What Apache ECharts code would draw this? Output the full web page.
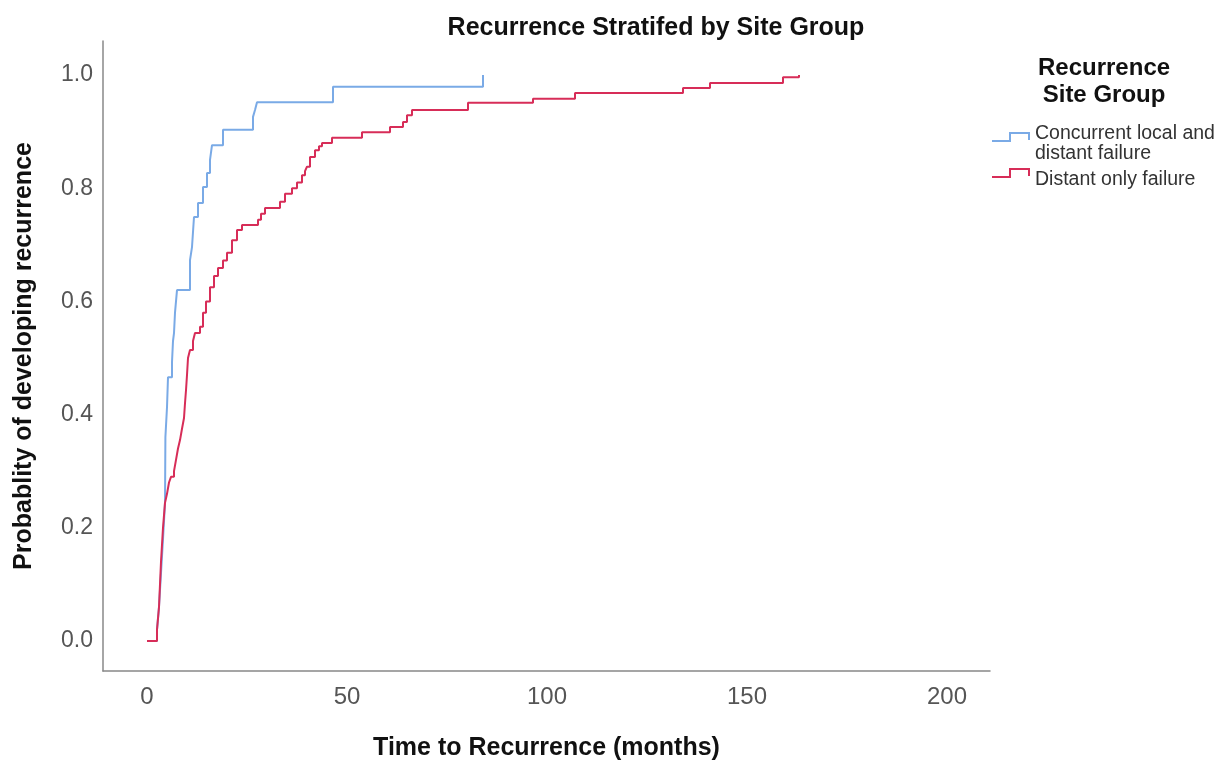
<!DOCTYPE html>
<html><head><meta charset="utf-8">
<script src="https://cdn.jsdelivr.net/npm/echarts@6/dist/echarts.min.js"></script>
<style>html,body{margin:0;padding:0;background:#fff}#c{width:1225px;height:760px}</style>
</head><body><div id="c"></div>
<script>
// Cumulative probability of recurrence: [months, probability]
const concurrentLocalDistant = [
  [0,0],[2.5,0.02],[3,0.06],[3.5,0.12],[4,0.18],[4.5,0.244],[4.55,0.30],[4.6,0.36],[5,0.413],[5.25,0.466],
  [6.25,0.493],[6.5,0.53],[6.75,0.544],[7,0.58],[7.5,0.62],[10.75,0.673],[11.25,0.696],[11.75,0.749],
  [12.75,0.774],[14,0.802],[15,0.827],[15.75,0.85],[16.25,0.876],[19,0.903],[26.5,0.926],[27,0.938],
  [27.5,0.952],[46.5,0.979],[84,1.0]
];
const distantOnly = [
  [0,0],[2.5,0.02],[3,0.06],[3.25,0.10],[3.5,0.14],[3.75,0.17],[4,0.20],[4.5,0.244],[5,0.26],[5.5,0.28],
  [6,0.29],[6.75,0.30],[7.25,0.32],[7.75,0.34],[8.25,0.355],[8.75,0.375],[9.25,0.394],[9.5,0.42],
  [9.75,0.443],[10,0.47],[10.25,0.50],[10.75,0.514],[11.5,0.53],[12,0.544],[13.25,0.555],[14,0.58],
  [14.75,0.60],[15.75,0.625],[16.75,0.645],[17.75,0.659],[19,0.672],[20,0.686],[21.25,0.708],
  [22.5,0.726],[23.75,0.735],[27.75,0.744],[28.5,0.755],[29.5,0.765],[33.25,0.776],[34.5,0.79],
  [36.25,0.80],[37.5,0.81],[38.75,0.823],[39.5,0.83],[40,0.838],[40.75,0.855],[42,0.867],[43,0.874],
  [43.75,0.88],[46.25,0.889],[53.75,0.899],[60.75,0.908],[64,0.917],[65,0.929],[66.25,0.938],
  [80.25,0.951],[96.5,0.958],[107,0.968],[134,0.977],[140.75,0.986],[159,0.996],[163,1.0]
];
const seriesNames = ['Concurrent local and\ndistant failure', 'Distant only failure'];
const legendTitle = 'Recurrence\nSite Group';
const xTicks = [0, 50, 100, 150, 200];
const yTicks = [0, 0.2, 0.4, 0.6, 0.8, 1.0];

const FONT = "'Liberation Sans', Arial, sans-serif";
const BLUE = '#7aaae6', RED = '#d72d58';

function stepIcon(x, yLow, color) {
  return {type: 'polyline', silent: true,
    shape: {points: [[x, yLow], [x + 18, yLow], [x + 18, yLow - 8], [x + 37, yLow - 8], [x + 37, yLow - 1]]},
    style: {stroke: color, lineWidth: 2, fill: null}};
}

const chart = echarts.init(document.getElementById('c'), null, {renderer: 'canvas'});
chart.setOption({
  animation: false,
  backgroundColor: '#ffffff',
  title: {text: 'Recurrence Stratifed by Site Group', left: 651, top: 11, textAlign: 'center',
     textStyle: {fontFamily: FONT, fontWeight: 'bold', fontSize: 25, color: '#111'}},
  graphic: [
    {type: 'text', left: 1108 - 70, top: 55, silent: true,
     style: {text: legendTitle, x: 70, textAlign: 'center', font: "bold 24px 'Liberation Sans', Arial, sans-serif",
       lineHeight: 27, fill: '#111'}},
    stepIcon(992, 141, BLUE),
    {type: 'text', left: 1035, top: 124, silent: true,
     style: {text: seriesNames[0], font: "19.5px 'Liberation Sans', Arial, sans-serif", lineHeight: 20, fill: '#333'}},
    stepIcon(992, 177, RED),
    {type: 'text', left: 1035, top: 170, silent: true,
     style: {text: seriesNames[1], font: "19.5px 'Liberation Sans', Arial, sans-serif", lineHeight: 20, fill: '#333'}}
  ],
  grid: {left: 103, right: 235, top: 41, bottom: 89, containLabel: false, outerBoundsMode: 'none'},
  xAxis: {
    type: 'value', min: -11, max: 210.75,
    name: 'Time to Recurrence (months)', nameLocation: 'middle', nameGap: 65,
    nameTextStyle: {fontFamily: FONT, fontWeight: 'bold', fontSize: 25, color: '#111'},
    axisLine: {show: true, onZero: false, lineStyle: {color: '#888', width: 1.5}},
    axisTick: {show: false},
    splitLine: {show: false},
    axisLabel: {customValues: xTicks, margin: 14, fontFamily: FONT, fontSize: 24, color: '#555',
      formatter: v => String(v)}
  },
  yAxis: {
    type: 'value', min: -0.053, max: 1.06,
    name: 'Probablity of developing recurrence', nameLocation: 'middle', nameGap: 66, nameRotate: 90,
    nameTextStyle: {fontFamily: FONT, fontWeight: 'bold', fontSize: 25, color: '#111'},
    axisLine: {show: true, onZero: false, lineStyle: {color: '#888', width: 1.5}},
    axisTick: {show: false},
    splitLine: {show: false},
    axisLabel: {customValues: yTicks, margin: 10, fontFamily: FONT, fontSize: 23, color: '#555',
      formatter: v => v.toFixed(1)}
  },
  series: [
    {name: seriesNames[0], type: 'line', step: 'end', data: concurrentLocalDistant, symbol: 'none',
     lineStyle: {color: BLUE, width: 2}, itemStyle: {color: BLUE}},
    {name: seriesNames[1], type: 'line', step: 'end', data: distantOnly, symbol: 'none',
     lineStyle: {color: RED, width: 2}, itemStyle: {color: RED}}
  ]
});
</script></body></html>
